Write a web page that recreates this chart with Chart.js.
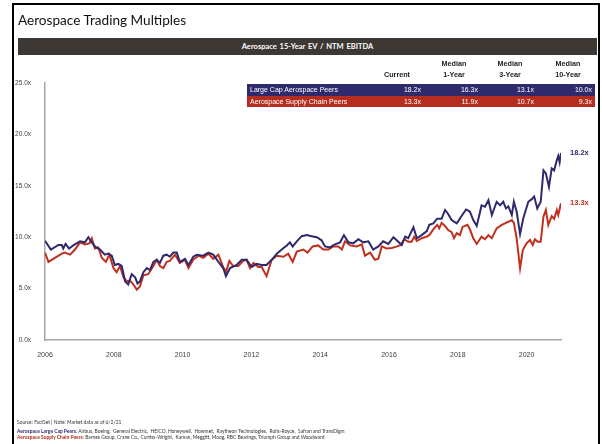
<!DOCTYPE html>
<html>
<head>
<meta charset="utf-8">
<script src="https://cdn.jsdelivr.net/npm/chart.js@4/dist/chart.umd.min.js"></script>
<style>
  html, body { margin: 0; padding: 0; background: #fff; }
  body { width: 602px; height: 444px; overflow: hidden; position: relative; font-family: "Liberation Sans", Arial, sans-serif; }
  #chart { position: absolute; left: 0; top: 0; }
  #frame { position: absolute; left: 12px; top: 3px; width: 584px; height: 470px; border: 2px solid #000; border-bottom: none; }
  #title { position: absolute; left: 18px; top: 12px; font: 13.6px Lato, "Open Sans", sans-serif; color: #111; white-space: nowrap; }
  #band { position: absolute; left: 18px; top: 38px; width: 579px; height: 17px; background: #3d3834; color: #fff;
          font: bold 7.5px Lato, "Open Sans", sans-serif; text-align: center; line-height: 17px; word-spacing: 1px; }
  .hd { position: absolute; width: 60px; text-align: center; font: bold 7.2px "Liberation Sans", Arial, sans-serif; color: #222; line-height: 11px; }
  .row { position: absolute; left: 247px; width: 348px; color: #fff; font: 7px "Liberation Sans", Arial, sans-serif; }
  .row span { position: absolute; white-space: nowrap; }
  .note { position: absolute; left: 17px; font: 4.9px Lato, "Open Sans", sans-serif; color: #333; white-space: pre; line-height: 6px; }
  .note b.p { color: #2f2a6e; }
  .note b.r { color: #b52d1e; }
</style>
</head>
<body>
<canvas id="chart" width="602" height="444"></canvas>
<div id="frame"></div>
<div id="title">Aerospace Trading Multiples</div>
<div id="band">Aerospace  15-Year EV / NTM EBITDA</div>
<div id="table"></div>
<div class="note" style="top:419px">Source: FactSet | Note: Market data as of 6/2/21</div>
<div class="note" style="top:428px"><b class="p">Aerospace Large Cap Peers:</b> Airbus, Boeing,  General Electric,  HEICO, Honeywell,  Howmet,  Raytheon Technologies,  Rolls-Royce,  Safran and TransDigm</div>
<div class="note" style="top:434px"><b class="r">Aerospace Supply Chain Peers:</b> Barnes Group, Crane Co., Curtiss-Wright,  Kaman, Meggitt, Moog, RBC Bearings, Triumph Group and Woodward</div>

<script>
// --- data ---
const peerNames = ["Large Cap Aerospace Peers", "Aerospace Supply Chain Peers"];
const currentMultiple = [18.2, 13.3];
const median1Y = [16.3, 11.9];
const median3Y = [13.1, 10.7];
const median10Y = [10.0, 9.3];
const colHeads = [["", "Current"], ["Median", "1-Year"], ["Median", "3-Year"], ["Median", "10-Year"]];

const yTicks = [0, 5, 10, 15, 20, 25];
const xTickYears = [2006, 2008, 2010, 2012, 2014, 2016, 2018, 2020];

// large cap peers, (year, multiple)
const bigYears = [2006.00,2006.17,2006.39,2006.49,2006.53,2006.60,2006.70,2006.82,2007.02,2007.16,2007.26,2007.36,2007.45,2007.60,2007.74,2007.84,2007.94,
  2008.03,2008.13,2008.23,2008.33,2008.42,2008.52,2008.62,2008.69,2008.76,2008.86,2008.96,2009.05,2009.15,2009.25,2009.34,2009.44,2009.54,2009.63,2009.73,2009.83,2009.92,
  2010.07,2010.17,2010.31,2010.41,2010.60,2010.75,2010.89,2011.04,2011.18,2011.26,2011.38,2011.57,2011.72,2011.86,2012.01,2012.15,2012.30,2012.44,2012.59,2012.74,2012.88,
  2013.03,2013.12,2013.20,2013.32,2013.46,2013.61,2013.75,2013.90,2014.04,2014.14,2014.28,2014.43,2014.58,2014.69,2014.82,2014.96,2015.11,2015.25,2015.40,2015.54,2015.69,2015.83,2015.98,
  2016.13,2016.27,2016.37,2016.47,2016.56,2016.71,2016.81,2016.95,2017.10,2017.17,2017.29,2017.40,2017.53,2017.63,2017.72,2017.82,2017.97,
  2018.11,2018.24,2018.35,2018.45,2018.55,2018.65,2018.69,2018.79,2018.89,2018.99,2019.13,2019.23,2019.32,2019.40,2019.47,2019.57,2019.63,2019.71,2019.81,2019.90,
  2020.05,2020.15,2020.22,2020.31,2020.41,2020.49,2020.56,2020.65,2020.73,2020.80,2020.88,2020.92,2020.96,2021.00];
const bigVals = [9.66,8.8,9.24,9.24,8.9,9.35,8.9,9.2,9.6,9.5,10.0,9.5,9.1,8.8,8.3,8.4,8.2,
  7.3,7.4,7.2,5.7,5.4,6.4,6.1,5.5,5.7,6.6,7.0,6.8,7.6,7.8,7.5,8.2,8.3,8.1,8.5,8.5,7.6,
  7.9,7.3,8.1,8.3,8.2,8.5,8.3,7.6,7.0,6.2,7.0,7.3,7.8,7.8,7.1,7.4,7.3,7.3,7.8,8.4,8.8,
  9.2,9.5,9.1,9.6,10.1,10.2,10.1,10.0,9.7,9.1,9.0,9.3,9.5,10.2,9.5,9.4,9.8,9.5,9.6,8.8,9.1,9.6,9.35,
  10.0,9.56,9.24,10.05,9.9,10.96,9.9,10.2,10.6,11.2,11.35,11.8,11.8,12.65,12.26,11.67,11.35,
  12.06,12.7,12.5,11.67,11.1,12.5,13.1,12.97,13.6,12.16,13.45,13.1,13.45,12.8,13.0,12.16,13.45,12.5,10.3,11.8,
  13.45,13.7,13.95,12.8,13.45,16.5,16.2,14.9,16.7,16.5,17.5,17.9,17.3,18.2];

// supply chain peers, (year, multiple)
const supYears = [2006.00,2006.10,2006.24,2006.49,2006.58,2006.73,2006.87,2007.02,2007.16,2007.29,2007.36,2007.45,2007.55,2007.65,2007.77,2007.87,2007.99,
  2008.08,2008.18,2008.28,2008.38,2008.47,2008.57,2008.67,2008.76,2008.86,2009.00,2009.15,2009.25,2009.34,2009.44,2009.54,2009.63,2009.78,2009.92,
  2010.07,2010.17,2010.31,2010.46,2010.60,2010.75,2010.89,2011.04,2011.18,2011.26,2011.36,2011.47,2011.62,2011.76,2011.86,2011.96,2012.06,2012.20,2012.30,2012.44,2012.59,2012.74,2012.93,
  2013.07,2013.20,2013.32,2013.51,2013.63,2013.78,2013.94,2014.09,2014.24,2014.38,2014.53,2014.63,2014.72,2014.87,2015.06,2015.21,2015.30,2015.45,2015.59,2015.69,2015.79,2015.93,
  2016.08,2016.22,2016.34,2016.44,2016.56,2016.66,2016.73,2016.81,2016.95,2017.10,2017.17,2017.31,2017.40,2017.46,2017.53,2017.63,2017.72,2017.82,2017.89,2017.97,
  2018.06,2018.14,2018.28,2018.35,2018.45,2018.55,2018.69,2018.79,2018.89,2018.99,2019.13,2019.28,2019.37,2019.47,2019.57,2019.63,2019.71,2019.81,2019.89,
  2020.00,2020.10,2020.18,2020.24,2020.32,2020.41,2020.49,2020.56,2020.63,2020.73,2020.80,2020.88,2020.92,2021.00];
const supVals = [8.5,7.6,7.9,8.4,8.5,8.3,8.8,9.5,9.3,9.4,9.9,8.9,9.0,8.0,7.6,8.3,7.0,
  6.6,7.2,6.1,5.7,5.8,5.4,4.9,5.2,6.3,6.4,7.2,7.8,7.2,7.0,7.6,7.7,8.3,7.5,
  7.8,7.0,7.8,8.2,8.0,8.4,7.9,8.3,7.1,6.6,7.7,7.2,7.2,7.7,7.8,7.0,7.5,7.1,7.1,6.2,7.8,8.2,8.1,
  8.4,7.6,8.6,8.8,8.5,9.1,9.2,8.8,8.8,9.1,9.1,8.8,9.6,9.2,9.1,9.3,8.2,8.5,7.8,7.9,9.1,8.9,
  8.95,9.08,9.24,9.8,9.56,9.56,10.05,9.63,9.9,10.05,10.2,10.86,11.2,10.86,11.4,11.1,10.7,10.5,9.9,10.4,
  10.2,11.0,11.2,10.77,9.9,9.34,10.05,9.8,10.2,9.9,10.86,11.2,11.35,11.5,11.67,11.4,9.9,6.97,8.75,
  9.4,9.73,9.24,9.8,9.56,9.56,12.0,12.65,11.2,12.06,11.8,12.65,12.16,13.3];

const PURPLE = "#2f2a6e";
const RED = "#c0301f";
const AXIS = "#a6a6a6";
const TICK = "#404040";

// --- table above the plot ---
function $(id){ return document.getElementById(id); }

function buildTable(){
  const colCenter = [397, 454, 510, 568];
  const colRight = [421, 478, 534, 592];
  let html = "";
  colHeads.forEach((h, i) => {
    html += `<div class="hd" style="left:${colCenter[i]-30}px;top:58px">${h[0]}</div>`;
    html += `<div class="hd" style="left:${colCenter[i]-30}px;top:69px">${h[1]}</div>`;
  });
  const rowTop = [84, 96], rowH = [12, 11], rowBg = ["#2f2a6b", "#b52d1e"];
  peerNames.forEach((name, r) => {
    const vals = [currentMultiple[r], median1Y[r], median3Y[r], median10Y[r]];
    html += `<div class="row" style="top:${rowTop[r]}px;height:${rowH[r]}px;line-height:${rowH[r]}px;background:${rowBg[r]}">`;
    html += `<span style="left:3px">${name}</span>`;
    vals.forEach((v, i) => {
      html += `<span style="right:${595 - colRight[i]}px">${v.toFixed(1)}x</span>`;
    });
    html += `</div>`;
  });
  $("table").innerHTML = html;
}
buildTable();

// end-of-line labels
const endLabels = {
  id: "endLabels",
  afterDatasetsDraw(chart){
    const ctx = chart.ctx;
    ctx.save();
    ctx.font = "bold 7.5px 'Liberation Sans', Arial, sans-serif";
    ctx.textBaseline = "middle";
    ctx.textAlign = "left";
    chart.data.datasets.forEach((ds, i) => {
      const meta = chart.getDatasetMeta(i);
      const pt = meta.data[meta.data.length - 1];
      ctx.fillStyle = ds.borderColor;
      ctx.fillText(currentMultiple[i].toFixed(1) + "x", pt.x + 9, pt.y);
    });
    ctx.restore();
  }
};

const toPts = (xs, ys) => xs.map((x, i) => ({ x, y: ys[i] }));

new Chart($("chart"), {
  type: "line",
  data: {
    datasets: [
      { label: peerNames[0], data: toPts(bigYears, bigVals), borderColor: PURPLE, borderWidth: 2, pointRadius: 0, tension: 0 },
      { label: peerNames[1], data: toPts(supYears, supVals), borderColor: RED, borderWidth: 2, pointRadius: 0, tension: 0 }
    ]
  },
  options: {
    responsive: false,
    animation: false,
    layout: { padding: { left: 0, top: 83, right: 41, bottom: 0 } },
    plugins: { legend: { display: false }, tooltip: { enabled: false } },
    scales: {
      x: {
        type: "linear",
        min: 2006, max: 2021,
        afterBuildTicks: s => { s.ticks = xTickYears.map(v => ({ value: v })); },
        afterFit: s => { s.height = 104; },
        grid: { display: false },
        border: { display: true, color: AXIS, width: 1.5 },
        ticks: { autoSkip: false, maxRotation: 0, padding: 3, color: TICK, font: { size: 7, family: "'Liberation Sans', Arial" }, callback: v => String(v) }
      },
      y: {
        min: 0, max: 25,
        afterBuildTicks: s => { s.ticks = yTicks.map(v => ({ value: v })); },
        afterFit: s => { s.width = 45; },
        grid: { display: false },
        border: { display: true, color: AXIS, width: 1.5 },
        ticks: { padding: 6, color: TICK, font: { size: 6.5, family: "'Liberation Sans', Arial" }, callback: v => v.toFixed(1) + "x" }
      }
    }
  },
  plugins: [endLabels]
});
</script>
</body>
</html>
